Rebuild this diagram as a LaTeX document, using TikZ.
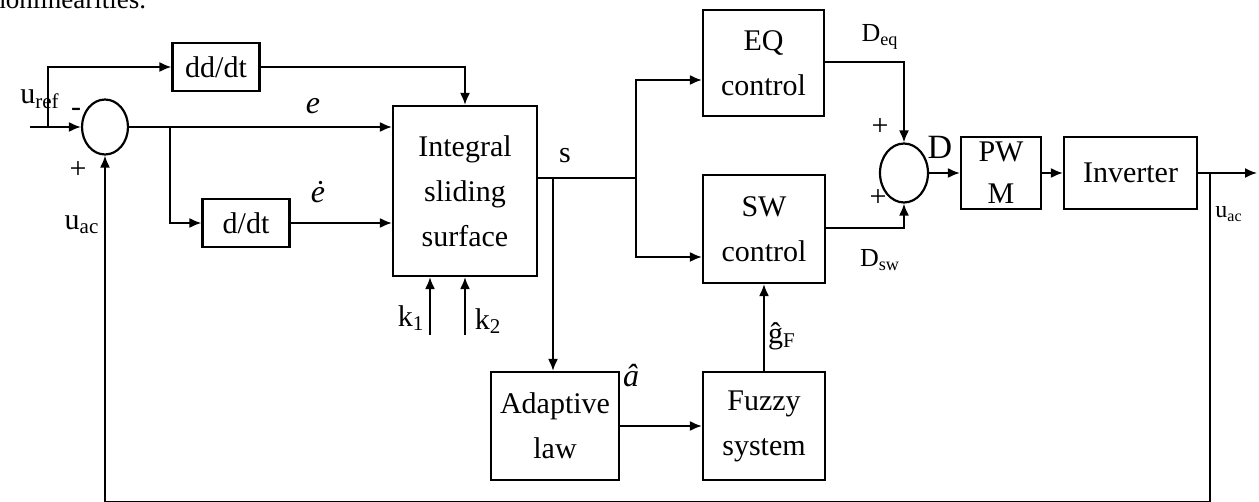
\documentclass[tikz,border=0pt]{standalone}
\usepackage{fontspec}
\setmainfont{Liberation Serif}
\usetikzlibrary{positioning,shapes.geometric,arrows.meta}

\begin{document}
\begin{tikzpicture}[
  x=0.5pt, y=-0.5pt,
  every text node part/.style={align=center},
  blk/.style={draw, rectangle, line width=1.1pt, inner sep=1pt, font=\fontsize{15}{22.5}\selectfont},
  sumj/.style={draw, ellipse, line width=1.1pt, inner sep=0pt},
  lbl/.style={inner sep=0pt, font=\fontsize{15}{17}\selectfont},
  small/.style={lbl, font=\fontsize{12}{14}\selectfont},
  arr/.style={-{Latex[length=6pt,width=5pt]}, line width=0.9pt},
  wire/.style={line width=0.9pt}
]
  \useasboundingbox (0,0) rectangle (1259,502);

  % page text cut off at the top
  \node[lbl, anchor=base west, font=\fontsize{13.5}{15}\selectfont] (pagetxt) at (-8,9) {nonlinearities.};

  % blocks
  \node[sumj, minimum width=23pt, minimum height=27.5pt] (sum1) at (105,127) {};
  \node[blk, minimum width=43.5pt, minimum height=24pt] (ddt) at (216,67) {dd/dt};
  \node[blk, minimum width=43.5pt, minimum height=24pt] (dt) at (246,223) {d/dt};
  \node[blk, minimum width=72pt, minimum height=85pt] (isurf) at (465,191) {Integral\\sliding\\surface};
  \node[blk, minimum width=60.5pt, minimum height=53pt] (eq) at (763.5,63) {EQ\\control};
  \node[blk, minimum width=61pt, minimum height=54pt] (sw) at (764,229) {SW\\control};
  \node[blk, minimum width=64pt, minimum height=54pt] (adapt) at (555,426) {Adaptive\\law};
  \node[blk, minimum width=61pt, minimum height=54pt] (fuzzy) at (764,426) {Fuzzy\\system};
  \node[sumj, minimum width=24pt, minimum height=29.5pt] (sum2) at (904,173) {};
  \node[blk, minimum width=40pt, minimum height=36pt, font=\fontsize{15}{21}\selectfont] (pwm) at (1001,173) {PW\\M};
  \node[blk, minimum width=66.5pt, minimum height=36pt] (inv) at (1130.5,173) {Inverter};

  % free ends and branch points
  \coordinate (uin) at (30,127);
  \coordinate (br1) at (48,127);
  \coordinate (br2) at (170,127);
  \coordinate (k1in) at (430,335);
  \coordinate (k2in) at (465,335);
  \coordinate (sout) at ([yshift=6.5pt]isurf.east);
  \coordinate (sj) at (636,178);
  \coordinate (sa) at (553,178);
  \coordinate (uout) at (1257,173);
  \coordinate (fb0) at (1210,173);
  \coordinate (fb1) at (1210,501.5);

  % connectors
  \draw[arr] (uin) -- (sum1.west);
  \draw[arr] (br1) |- (ddt.west);
  \draw[arr] (ddt.east) -| (isurf.north);
  \draw[arr] (sum1.east) -- (sum1.east -| isurf.west);
  \draw[arr] (br2) |- (dt.west);
  \draw[arr] (dt.east) -- (dt.east -| isurf.west);
  \draw[arr] (k1in) -- (k1in |- isurf.south);
  \draw[arr] (k2in) -- (k2in |- isurf.south);
  \draw[wire] (sout) -- (sj);
  \draw[arr] (sj) |- ([yshift=-8.5pt]eq.west);
  \draw[arr] (sj) |- ([yshift=-14pt]sw.west);
  \draw[arr] (sa) -- (sa |- adapt.north);
  \draw[arr] (adapt.east) -- (fuzzy.west);
  \draw[arr] (fuzzy.north) -- (sw.south);
  \draw[arr] ([yshift=0.5pt]eq.east) -| (sum2.north);
  \draw[arr] ([yshift=0.5pt]sw.east) -| (sum2.south);
  \draw[arr] (sum2.east) -- (pwm.west);
  \draw[arr] (pwm.east) -- (inv.west);
  \draw[arr] (inv.east) -- (uout);
  \draw[arr] (fb0) -- (fb1) -| (sum1.south);

  % signal labels
  \node[lbl] (l-uref) at (40,99) {u\textsubscript{ref}};
  \node[lbl] (l-minus) at (76,112) {-};
  \node[lbl] (l-plus1) at (78,170) {+};
  \node[lbl] (l-uac1) at (82,225) {u\textsubscript{ac}};
  \node[lbl, font=\fontsize{16}{18}\selectfont\itshape] (l-e) at (313,106) {e};
  \node[lbl, font=\fontsize{16}{18}\selectfont\itshape] (l-edot) at (318,192) {ė};
  \node[lbl] (l-k1) at (411,318) {k\textsubscript{1}};
  \node[lbl] (l-k2) at (488,321) {k\textsubscript{2}};
  \node[lbl] (l-s) at (565,156) {s};
  \node[lbl, font=\fontsize{16}{18}\selectfont\itshape] (l-ahat) at (631,376) {â};
  \node[lbl] (l-ghat) at (782,336) {ĝ\textsubscript{F}};
  \node[lbl, font=\fontsize{13}{15}\selectfont] (l-deq) at (880,37) {D\textsubscript{eq}};
  \node[lbl] (l-plus2) at (880,127) {+};
  \node[lbl] (l-plus3) at (878,198) {+};
  \node[lbl, font=\fontsize{17}{19}\selectfont] (l-d) at (940,147) {D};
  \node[lbl, font=\fontsize{13}{15}\selectfont] (l-dsw) at (880,260) {D\textsubscript{sw}};
  \node[small] (l-uac2) at (1229,214) {u\textsubscript{ac}};
\end{tikzpicture}
\end{document}
